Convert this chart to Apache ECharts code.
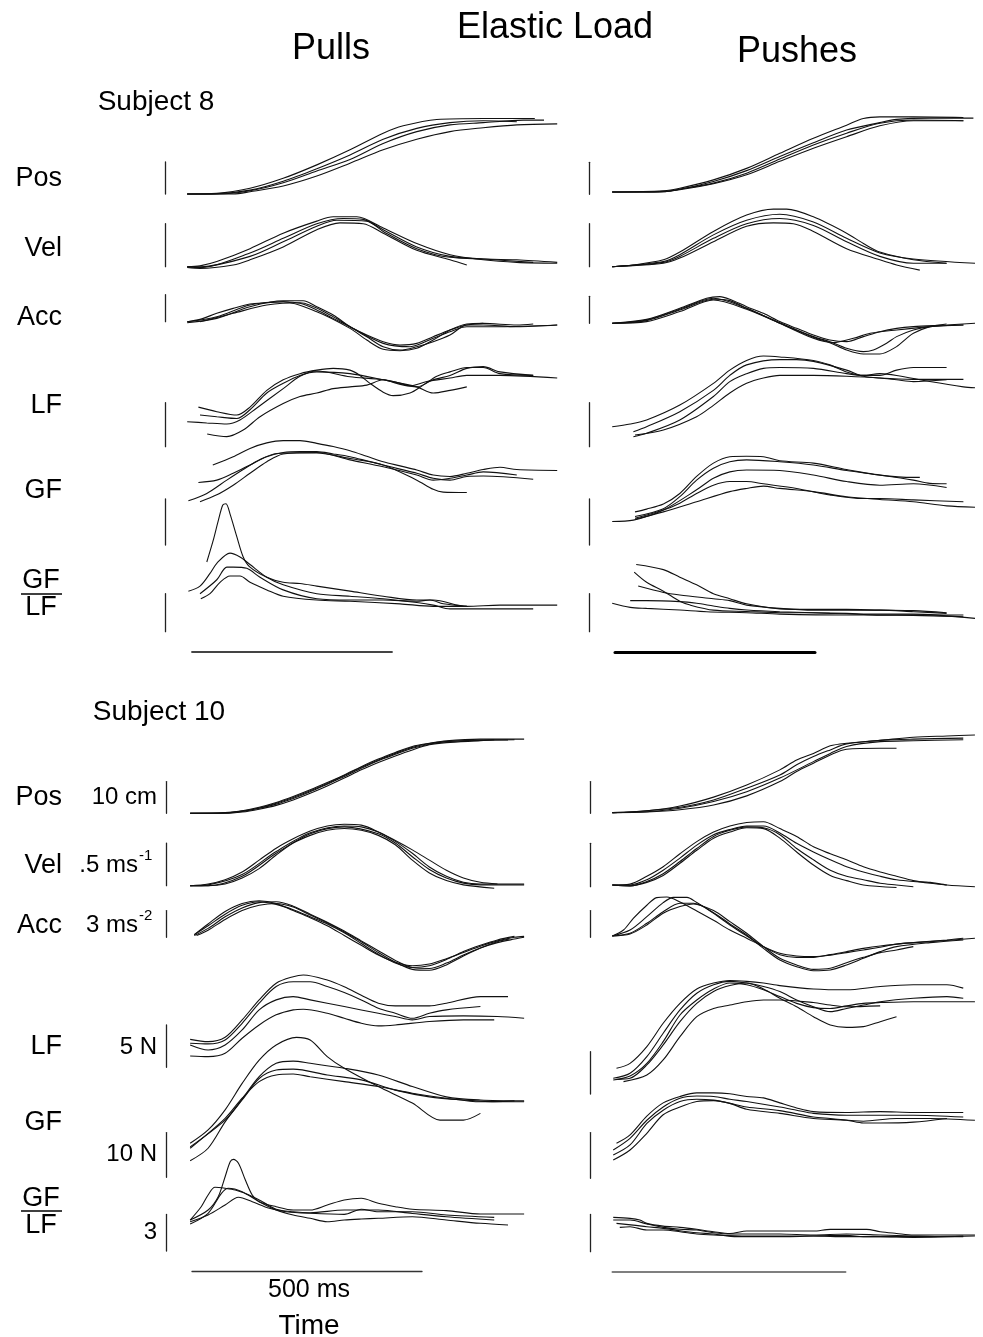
<!DOCTYPE html>
<html><head><meta charset="utf-8">
<script src="https://cdn.jsdelivr.net/npm/echarts@6/dist/echarts.min.js"></script>
<style>html,body{margin:0;padding:0;background:#fff}#c{width:983px;height:1337px}</style>
</head><body><div id="c"></div>
<script>
// ===== DATA: each trace is a list of [time (ms), value] =====
// Units: Pos cm, Vel m/s, Acc m/s^2, LF N, GF N, GF/LF ratio
const rowNames = ['Pos','Vel','Acc','LF','GF','GF/LF'];
const scaleBarValues = [10, 0.5, 3, 5, 10, 3];
const scaleBarLabels = ['10 cm', '.5 ms', '3 ms', '5 N', '10 N', '3'];
const scaleBarSup = ['', '-1', '-2', '', '', ''];
const timeBarMs = 500;

// ---------- Subject 8, Pulls ----------
const s8PullPos = [
 [[-12,0],[62,0.2],[145,1.8],[228,4.9],[312,9.1],[395,13.8],[478,19.0],[528,21.3],[612,23.3],[728,23.6],[857,23.6]],
 [[-12,0],[62,0.1],[145,1.2],[228,4.0],[312,7.9],[395,12.2],[478,17.1],[562,20.5],[645,22.3],[728,22.9],[812,22.6]],
 [[-12,0],[62,0],[145,1.0],[228,3.5],[312,7.2],[395,10.8],[478,15.8],[562,19.5],[645,21.6],[728,22.3],[828,23.1],[880,23.1]],
 [[-12,0],[103,0],[145,0.7],[228,2.5],[312,5.6],[395,9.6],[478,13.8],[562,17.1],[645,19.5],[728,20.7],[812,21.6],[913,21.9]]
];
const s8PullVel = [
 [[-12,0],[20,0.01],[62,0.06],[145,0.21],[228,0.39],[312,0.53],[353,0.58],[412,0.58],[478,0.45],[562,0.27],[645,0.14],[728,0.08],[812,0.05],[913,0.04]],
 [[-12,-0.01],[20,-0.02],[103,0.02],[145,0.08],[228,0.23],[312,0.43],[370,0.51],[428,0.50],[478,0.39],[562,0.19],[645,0.08],[687,0.02]],
 [[-12,0],[20,-0.01],[145,0.16],[228,0.33],[312,0.50],[378,0.56],[428,0.55],[478,0.43],[562,0.23],[645,0.12],[728,0.09],[853,0.05]],
 [[-12,0],[20,0],[145,0.12],[228,0.29],[312,0.47],[362,0.54],[437,0.53],[478,0.41],[562,0.21],[645,0.11],[812,0.08],[913,0.05]]
];
const s8PullAcc = [
 [[-12,0],[20,0.26],[62,0.93],[103,1.48],[145,1.96],[187,2.11],[228,2.22],[270,2.04],[312,1.30],[353,0.37],[395,-0.56],[437,-1.48],[478,-2.22],[520,-2.59],[562,-2.41],[603,-1.67],[645,-0.93],[687,-0.37],[728,-0.19],[812,-0.37],[853,-0.26]],
 [[-12,-0.11],[62,0.37],[145,1.67],[228,2.33],[278,2.33],[312,1.67],[353,0.74],[395,-0.56],[437,-1.67],[478,-2.78],[520,-3.15],[562,-2.78],[603,-2.22],[645,-1.48],[687,-0.37],[728,-0.37],[812,-0.56],[913,-0.37]],
 [[-12,0],[62,0.56],[145,1.85],[228,2.22],[312,1.11],[395,-0.74],[437,-2.04],[478,-3.07],[520,-3.22],[562,-2.96],[603,-2.04],[645,-0.93],[687,-0.26],[728,-0.19]],
 [[20,0],[103,0.93],[187,1.85],[270,2.11],[353,0.56],[395,-0.56],[478,-2.41],[545,-2.78],[603,-1.85],[645,-1.11],[687,-0.56],[770,-0.56],[913,-0.37]]
];
const s8PullLF = [
 [[16,4.5],[62,3.98],[112,3.6],[145,4.5],[187,6.4],[228,7.6],[270,8.3],[312,8.7],[353,8.9],[395,8.7],[420,8.1],[445,7.2],[478,6.2],[503,5.8],[545,6.1],[578,7.0],[612,8.0],[645,8.5],[687,9.0],[728,9.0],[770,8.3],[853,8.1]],
 [[20,3.6],[62,3.4],[112,3.2],[145,4.2],[187,6.1],[228,7.2],[270,8.1],[312,8.5],[395,8.3],[478,7.6],[562,6.8],[603,6.1],[645,6.4],[687,6.8]],
 [[-12,2.84],[37,2.7],[87,2.58],[120,3.03],[162,4.4],[228,6.6],[270,8.0],[312,8.6],[395,7.95],[478,7.6],[545,6.9],[587,7.4],[645,7.8],[687,8.1],[770,8.1],[913,7.8]],
 [[38,1.44],[87,1.14],[128,1.89],[170,3.4],[228,4.9],[270,5.7],[312,6.1],[353,6.6],[395,6.8],[437,7.0],[478,7.6],[562,6.8],[603,7.6],[645,8.1],[687,8.9],[728,9.1],[770,8.5],[853,8.1]]
];
const s8PullGF = [
 [[52,17.4],[103,19.2],[145,21.0],[187,22.2],[228,22.7],[270,22.7],[312,22.1],[353,21.4],[395,20.5],[437,19.3],[478,18.1],[520,17.2],[562,16.3],[603,15.2],[645,14.9],[687,15.6],[728,16.4],[770,16.9],[812,16.4],[913,16.2]],
 [[16,13.6],[62,14.1],[103,15.6],[145,17.4],[187,19.2],[228,20.1],[270,20.3],[312,20.3],[353,19.8],[395,19.2],[437,18.3],[478,17.4],[520,16.5],[562,15.6],[603,14.5],[645,14.1],[687,14.9],[728,15.0],[853,14.3]],
 [[-9,9.6],[37,11.2],[87,14.1],[128,16.4],[170,18.6],[212,19.9],[270,20.0],[312,20.0],[395,18.8],[478,17.4],[562,14.1],[603,12.1],[628,11.5],[687,11.4]],
 [[20,9.4],[62,10.9],[103,13.0],[145,15.6],[187,18.1],[228,19.8],[312,20.1],[395,18.5],[478,17.0],[562,15.2],[603,14.1],[645,14.5],[687,15.2],[728,15.9],[812,15.2]]
];
const s8PullRatio = [
 [[37,5.5],[53,7.2],[66,8.8],[77,10.0],[85,10.1],[95,9.3],[112,7.5],[128,5.9],[145,5.1],[187,4.3],[228,3.9],[270,3.8],[312,3.6],[395,3.2],[478,2.8],[562,2.5],[603,2.5],[687,2.0],[770,2.1],[913,2.1]],
 [[-9,3.2],[20,3.6],[45,4.6],[62,5.4],[95,6.2],[120,5.9],[145,5.3],[187,4.3],[228,3.7],[312,3.0],[395,2.8],[478,2.6],[562,2.3],[603,2.1],[645,1.8],[728,1.8],[853,1.8]],
 [[20,3.0],[62,4.1],[87,5.1],[103,5.1],[137,5.0],[170,4.3],[228,3.3],[312,2.6],[395,2.5],[478,2.5],[562,2.4],[595,2.5],[628,2.2],[687,2.0]],
 [[22,2.6],[45,3.0],[70,3.9],[95,4.4],[120,4.4],[145,3.9],[187,3.3],[228,2.8],[312,2.5],[395,2.4],[520,2.2],[603,2.0],[687,2.0]]
];

// ---------- Subject 8, Pushes ----------
const s8PushPos = [
 [[-7,0.7],[121,1.1],[162,1.9],[246,4.5],[329,8.1],[412,12.8],[496,17.5],[579,21.6],[621,23.7],[662,24.2],[746,24.2],[871,24.0]],
 [[-7,0.7],[121,0.9],[162,1.6],[246,4.0],[329,7.4],[412,11.8],[496,16.1],[579,20.1],[662,22.4],[704,23.4],[787,23.8],[896,23.8]],
 [[-7,0.7],[121,0.8],[162,1.6],[246,3.5],[329,6.6],[412,11.0],[496,15.4],[579,19.1],[662,22.2],[746,23.2],[871,23.0]],
 [[-7,0.7],[121,0.8],[162,1.4],[246,3.3],[329,6.1],[412,10.3],[496,14.4],[579,18.0],[662,21.4],[746,23.0],[871,23.0]]
];
const s8PushVel = [
 [[-7,0],[46,0.02],[121,0.08],[162,0.17],[246,0.41],[329,0.60],[396,0.67],[429,0.67],[496,0.58],[579,0.39],[621,0.27],[662,0.17],[746,0.08],[829,0.04]],
 [[-7,0],[121,0.06],[162,0.14],[246,0.37],[329,0.54],[412,0.61],[496,0.52],[579,0.33],[662,0.16],[746,0.09],[900,0.04]],
 [[-7,0],[121,0.05],[162,0.12],[246,0.33],[329,0.50],[412,0.56],[496,0.48],[579,0.29],[662,0.12],[746,0.04],[829,0.04]],
 [[-7,0],[121,0.04],[162,0.10],[246,0.29],[329,0.47],[396,0.51],[446,0.50],[496,0.41],[579,0.21],[662,0.08],[704,0.02],[762,-0.04]]
];
const s8PushAcc = [
 [[-7,0],[79,0.44],[162,1.67],[229,2.78],[262,2.96],[287,2.67],[329,1.85],[371,1.11],[412,0.19],[454,-0.56],[496,-1.30],[537,-1.85],[579,-2.04],[621,-1.48],[662,-0.93],[704,-0.56],[746,-0.37],[829,-0.19],[900,0]],
 [[-7,0],[79,0.30],[162,1.48],[246,2.67],[287,2.52],[329,1.67],[412,0.07],[496,-1.48],[537,-2.04],[579,-2.78],[621,-3.15],[646,-2.96],[679,-2.22],[704,-1.48],[746,-0.74],[787,-0.37],[871,-0.19]],
 [[-7,0],[79,0.19],[162,1.30],[246,2.59],[329,1.56],[412,0],[496,-1.56],[537,-2.15],[579,-2.96],[621,-3.41],[662,-3.41],[704,-2.59],[729,-1.67],[746,-1.11],[787,-0.37],[829,-0.07]],
 [[-7,0],[79,0.37],[162,1.56],[246,2.78],[329,1.67],[412,0],[496,-1.67],[546,-2.15],[596,-1.67],[638,-1.11],[704,-0.74],[787,-0.37],[871,-0.19]]
];
const s8PushLF = [
 [[-7,2.27],[38,2.58],[79,3.03],[162,4.73],[246,7.2],[287,8.7],[329,9.8],[371,10.3],[412,10.2],[496,9.8],[537,9.3],[579,8.5],[621,8.1],[662,8.1],[704,8.7],[746,9.0],[829,9.0]],
 [[46,1.7],[79,2.27],[162,3.98],[246,6.4],[287,8.1],[329,9.3],[412,9.9],[454,9.9],[496,9.7],[579,8.7],[621,8.0],[662,7.8],[746,7.65],[871,7.65]],
 [[46,1.14],[79,1.52],[162,3.03],[246,5.7],[287,7.4],[329,8.3],[371,8.9],[412,9.0],[496,8.9],[579,8.3],[621,8.1],[662,8.3],[704,8.1],[787,7.4],[871,6.8],[900,6.7]],
 [[50,1.33],[121,1.89],[204,3.4],[246,4.7],[287,6.1],[329,7.2],[371,7.8],[412,8.1],[496,8.1],[579,8.0],[662,7.8],[704,7.6],[746,7.4],[829,7.6]]
];
const s8PushGF = [
 [[50,7.2],[79,7.8],[121,8.9],[162,11.2],[204,14.9],[246,17.8],[287,19.2],[329,19.3],[371,19.2],[412,18.3],[496,17.8],[579,16.4],[662,15.2],[746,14.7],[762,14.7]],
 [[50,6.2],[121,7.9],[162,10.5],[204,14.1],[246,16.7],[287,18.1],[329,18.5],[412,18.1],[496,17.4],[579,16.2],[662,15.2],[746,14.1],[787,13.4],[829,13.3]],
 [[-7,5.1],[46,5.4],[121,7.6],[204,12.0],[246,14.5],[287,15.9],[329,16.3],[412,16.2],[496,15.2],[579,13.8],[662,13.0],[746,13.3],[829,12.5]],
 [[50,5.8],[121,7.6],[162,9.1],[204,11.2],[246,13.0],[287,13.8],[329,13.8],[371,13.3],[454,12.3],[537,10.9],[621,10.1],[662,10.1],[746,9.8],[871,9.4]],
 [[50,5.6],[121,7.2],[204,9.4],[287,11.6],[329,12.3],[371,12.8],[412,12.3],[496,11.6],[579,10.5],[662,9.9],[746,9.4],[829,8.5],[900,8.2]]
];
const s8PushRatio = [
 [[53,5.3],[121,4.9],[162,4.3],[204,3.7],[246,3.0],[287,2.6],[329,2.2],[412,1.8],[496,1.76],[579,1.76],[662,1.7],[746,1.66],[829,1.5]],
 [[48,4.7],[79,3.9],[121,3.2],[162,2.4],[188,2.1],[246,1.7],[329,1.6],[412,1.5],[496,1.5],[579,1.45],[662,1.3],[746,1.29],[871,1.18]],
 [[58,3.6],[121,3.1],[162,2.9],[246,2.6],[287,2.45],[329,2.1],[412,1.84],[496,1.7],[579,1.7],[662,1.7],[746,1.58],[829,1.45]],
 [[38,2.45],[79,2.45],[162,2.37],[204,2.24],[246,2.03],[287,1.84],[329,1.71],[412,1.58],[537,1.45],[621,1.39],[746,1.39],[900,1.05]],
 [[-7,2.24],[38,1.92],[79,1.84],[162,1.71],[229,1.58],[329,1.5],[412,1.39],[579,1.32],[746,1.32],[871,1.32]]
];

// ---------- Subject 10, Pulls ----------
const s10PullPos = [
 [[-4,0],[72,0.2],[109,0.8],[146,1.9],[183,3.4],[220,5.3],[257,7.4],[294,9.7],[331,12.1],[368,14.7],[405,17.1],[442,19.2],[479,21.1],[516,22.1],[553,22.9],[627,23.4],[722,23.4]],
 [[-4,0],[72,0],[109,0.4],[146,1.3],[183,2.5],[220,4.2],[257,6.3],[294,8.6],[331,11.1],[368,13.7],[405,16.0],[442,18.1],[479,20.0],[516,21.6],[553,22.3],[627,22.9],[657,23.2]],
 [[-4,0],[72,0.1],[109,0.6],[146,1.6],[183,2.9],[220,4.7],[257,6.8],[294,9.2],[331,11.6],[368,14.2],[405,16.6],[442,18.6],[479,20.5],[516,21.8],[553,22.6],[627,23.0],[701,23.2]],
 [[-4,0],[72,0.1],[109,0.7],[146,1.7],[183,3.2],[220,5.0],[257,7.1],[294,9.4],[331,11.9],[368,14.5],[405,16.8],[442,18.9],[479,20.8],[516,22.0],[553,22.6],[627,23.1],[687,23.1]]
];
const s10PullVel = [
 [[-4,0],[35,0.02],[72,0.07],[109,0.16],[146,0.30],[183,0.44],[220,0.55],[257,0.64],[294,0.70],[331,0.72],[368,0.71],[405,0.63],[442,0.52],[479,0.38],[516,0.22],[553,0.11],[590,0.04],[627,0.02],[722,0.02]],
 [[-4,0],[35,0],[72,0.02],[109,0.09],[146,0.20],[183,0.36],[220,0.50],[257,0.59],[294,0.65],[331,0.67],[368,0.65],[405,0.59],[442,0.48],[479,0.30],[516,0.15],[553,0.06],[590,0.01],[657,-0.03]],
 [[-4,0],[35,0.01],[109,0.13],[183,0.40],[257,0.62],[331,0.70],[368,0.69],[405,0.63],[442,0.53],[479,0.42],[516,0.30],[553,0.18],[590,0.09],[627,0.04],[664,0.02]],
 [[-4,0],[35,0],[109,0.11],[183,0.38],[257,0.61],[331,0.69],[405,0.61],[442,0.50],[479,0.34],[516,0.19],[553,0.09],[590,0.03],[627,0.01],[722,0.01]]
];
const s10PullAcc = [
 [[5,0.3],[35,1.5],[72,2.9],[109,3.8],[146,4.1],[183,3.8],[220,3.0],[257,2.2],[294,1.3],[331,0.2],[368,-0.9],[405,-2.0],[442,-2.8],[479,-3.2],[516,-3.0],[553,-2.4],[590,-1.7],[627,-1.0],[664,-0.4],[701,0],[722,0.1]],
 [[5,0.2],[35,1.0],[72,2.3],[109,3.3],[146,3.9],[183,4.0],[220,3.5],[257,2.6],[294,1.7],[331,0.7],[368,-0.4],[405,-1.5],[442,-2.6],[479,-3.4],[516,-3.5],[553,-2.9],[590,-2.0],[627,-1.2],[664,-0.6],[701,-0.2],[722,0]],
 [[5,0.3],[35,1.3],[72,2.6],[109,3.6],[146,4.0],[183,3.7],[220,3.1],[257,2.3],[294,1.5],[331,0.5],[368,-0.7],[405,-1.9],[442,-2.9],[479,-3.4],[516,-3.2],[553,-2.5],[590,-1.6],[627,-0.9],[664,-0.3],[701,0.1]],
 [[10,0.2],[35,0.8],[72,2.0],[109,3.0],[146,3.6],[183,3.8],[220,3.4],[257,2.5],[294,1.6],[331,0.6],[368,-0.5],[405,-1.7],[442,-2.8],[479,-3.6],[516,-3.7],[553,-3.1],[590,-2.1],[627,-1.2],[664,-0.5],[690,-0.2]]
];
const s10PullLF = [
 [[-4,3.3],[35,3.03],[72,3.55],[109,5.59],[146,7.96],[183,9.93],[220,10.7],[242,10.9],[294,10.3],[331,9.5],[368,8.5],[405,7.57],[442,7.25],[516,7.25],[553,7.57],[627,8.35],[687,8.35]],
 [[-4,2.84],[35,2.76],[72,3.23],[109,5.2],[146,7.57],[183,9.54],[220,10.1],[257,10.1],[294,9.54],[331,8.83],[368,7.96],[405,6.97],[442,6.38],[479,5.79],[516,6.38],[553,6.78],[627,7.17]],
 [[-4,2.64],[35,2.05],[72,2.64],[109,4.41],[146,6.78],[183,7.96],[220,8.35],[257,7.96],[331,7.17],[405,6.38],[442,5.99],[479,5.6],[516,5.99],[590,6.07],[664,5.99],[722,5.79]],
 [[-4,1.34],[35,1.26],[72,1.65],[109,3.43],[146,5.0],[183,6.19],[220,6.78],[242,6.86],[294,6.38],[331,5.79],[368,5.2],[405,4.89],[442,5.0],[516,5.4],[590,5.6],[657,5.6]]
];
const s10PullGF = [
 [[-4,7.6],[35,10.6],[72,15.1],[109,21.0],[146,26.2],[183,29.6],[227,31.3],[257,30.7],[294,27.0],[331,24.4],[405,20.3],[479,16.6],[539,12.8],[590,12.8],[627,14.3]],
 [[-4,3.7],[35,6.5],[72,12.4],[109,17.5],[146,22.5],[183,25.5],[220,26.0],[257,25.5],[331,24.4],[405,22.9],[479,20.3],[553,18.0],[627,17.3],[722,17.1]],
 [[-4,6.8],[72,12.8],[109,17.3],[146,22.1],[183,24.0],[220,24.2],[294,22.9],[368,21.8],[442,19.5],[516,18.0],[590,17.3],[664,16.9],[722,16.9]],
 [[-4,6.5],[72,13.2],[109,17.7],[146,21.4],[183,22.9],[220,23.1],[257,22.5],[331,21.4],[405,20.3],[479,18.8],[553,17.7],[627,16.9],[701,17.1]]
];
const s10PullRatio = [
 [[-4,2.54],[35,3.36],[57,4.45],[72,6.09],[83,7.32],[90,7.51],[101,7.19],[116,5.82],[131,4.59],[146,4.04],[183,3.63],[220,3.36],[257,3.36],[294,3.77],[331,4.18],[368,4.32],[405,3.91],[442,3.63],[479,3.42],[553,3.31],[627,3.03],[722,3.03]],
 [[-4,2.54],[20,3.63],[35,4.59],[50,5.22],[72,5.14],[94,5.0],[124,4.59],[153,4.04],[183,3.42],[220,3.22],[257,3.14],[331,3.36],[405,3.36],[479,3.08],[553,2.81],[657,2.54]],
 [[-4,2.21],[35,3.09],[64,4.73],[79,5.14],[109,4.86],[146,4.04],[183,3.36],[220,2.95],[257,2.68],[294,2.4],[331,2.54],[368,2.62],[405,2.68],[479,2.81],[553,2.54],[627,2.27],[687,2.13]],
 [[-4,2.40],[35,2.95],[72,3.77],[101,4.4],[131,4.04],[168,3.5],[205,3.22],[257,3.09],[331,3.0],[368,3.42],[405,3.22],[479,3.22],[553,2.95],[657,2.76]]
];

// ---------- Subject 10, Pushes ----------
const s10PushPos = [
 [[0,0.2],[74,0.8],[145,2.3],[217,5.1],[288,8.9],[359,13.7],[395,16.8],[431,18.9],[467,21.3],[502,22.1],[574,23.0],[645,24.0],[717,24.4],[777,24.7]],
 [[0,0.2],[74,0.8],[145,1.9],[217,4.2],[288,7.9],[359,12.1],[395,15.3],[431,17.9],[467,20.0],[502,21.9],[574,23.0],[645,23.4],[752,23.7]],
 [[0,0.2],[74,0.5],[145,1.6],[217,3.7],[288,6.8],[359,11.1],[431,16.3],[467,18.9],[502,21.1],[574,22.6],[645,22.9],[752,23.2]],
 [[0,0.2],[74,0.4],[145,1.1],[217,2.6],[288,5.5],[359,10.0],[395,13.2],[431,15.8],[467,18.4],[502,20.2],[574,20.5],[609,20.5]]
];
const s10PushVel = [
 [[0,0.02],[38,0.03],[74,0.12],[109,0.23],[145,0.38],[181,0.52],[217,0.63],[252,0.70],[288,0.74],[324,0.75],[359,0.67],[395,0.58],[431,0.46],[467,0.38],[502,0.31],[538,0.23],[574,0.17],[609,0.12],[645,0.07],[681,0.04],[717,0.02]],
 [[0,0.02],[38,0.02],[74,0.08],[109,0.19],[145,0.33],[181,0.48],[217,0.60],[252,0.66],[288,0.70],[324,0.70],[359,0.62],[395,0.50],[431,0.40],[467,0.31],[502,0.23],[538,0.17],[574,0.12],[609,0.08],[645,0.06],[681,0.05],[717,0.02],[777,0]],
 [[0,0.02],[38,0.01],[74,0.06],[109,0.15],[145,0.29],[181,0.44],[217,0.58],[252,0.65],[288,0.69],[324,0.68],[359,0.60],[395,0.44],[431,0.31],[467,0.19],[502,0.12],[538,0.08],[574,0.04],[609,0.02],[645,0]],
 [[0,0.02],[38,0.01],[74,0.05],[109,0.13],[145,0.27],[181,0.42],[217,0.56],[252,0.63],[288,0.68],[324,0.67],[359,0.56],[395,0.40],[431,0.25],[467,0.13],[502,0.07],[538,0.02],[609,-0.01]]
];
const s10PushAcc = [
 [[0,0.15],[24,0.82],[45,2.13],[74,3.6],[95,4.46],[117,4.53],[145,3.97],[181,2.96],[217,1.91],[252,0.82],[288,-0.11],[324,-1.05],[359,-1.8],[395,-2.1],[431,-2.17],[467,-2.02],[502,-1.72],[538,-1.42],[574,-1.12],[609,-0.75],[681,-0.49],[777,-0.11]],
 [[0,0.15],[38,0.82],[74,2.32],[109,3.9],[131,4.49],[160,4.49],[181,3.9],[217,2.7],[252,1.39],[288,0.15],[324,-1.05],[359,-1.95],[395,-2.25],[431,-2.25],[467,-1.95],[502,-1.61],[538,-1.24],[574,-0.97],[645,-0.6],[717,-0.3],[752,-0.11]],
 [[0,0.15],[38,0.45],[74,1.57],[109,2.88],[145,3.82],[174,3.82],[217,2.77],[252,1.5],[288,0.26],[324,-1.24],[359,-2.55],[395,-3.3],[431,-3.75],[467,-3.67],[502,-3.11],[538,-2.36],[574,-1.61],[609,-1.05],[681,-0.6],[752,-0.3]],
 [[0,0.15],[38,0.37],[74,1.39],[109,2.7],[145,3.45],[174,3.75],[217,3.0],[252,1.76],[288,0.45],[324,-1.05],[359,-2.36],[395,-3.11],[431,-3.6],[467,-3.48],[502,-2.85],[538,-2.25],[574,-1.72],[609,-1.42],[645,-1.05]]
];
const s10PushLF = [
 [[9,3.03],[38,3.62],[74,5.6],[109,8.35],[145,10.7],[181,12.4],[217,13.1],[252,13.4],[288,13.3],[324,13.1],[359,12.8],[431,12.4],[502,12.3],[574,12.7],[645,12.9],[717,12.9],[752,12.5]],
 [[2,1.85],[38,2.44],[74,4.41],[109,7.17],[145,9.92],[181,11.9],[217,12.9],[252,13.3],[288,13.1],[324,12.7],[359,12.1],[395,11.1],[431,10.3],[467,9.72],[502,10.1],[538,10.5],[574,10.9],[645,11.3],[717,11.5],[752,11.3]],
 [[2,1.65],[38,2.13],[74,3.62],[109,6.18],[145,9.33],[181,11.1],[217,12.4],[252,13.1],[288,12.9],[324,12.3],[359,11.5],[395,10.7],[431,10.2],[467,10.1],[502,10.4],[538,10.7],[574,10.8],[645,10.9],[777,10.9]],
 [[9,1.73],[38,1.85],[74,3.43],[109,5.79],[145,8.54],[181,10.7],[217,12.1],[252,12.8],[288,13.1],[324,12.4],[359,11.3],[395,10.3],[431,9.13],[467,8.15],[502,7.87],[538,7.95],[574,8.54],[609,9.13]],
 [[24,1.46],[74,2.24],[109,4.02],[145,6.77],[181,9.13],[217,10.1],[252,10.5],[288,10.9],[324,11.1],[359,11.1],[431,10.8],[467,10.5],[502,10.3],[574,10.4]]
];
const s10PushGF = [
 [[9,7.66],[38,9.5],[74,13.6],[109,16.5],[145,17.9],[181,18.7],[217,18.7],[252,18.5],[288,17.9],[324,17.6],[359,16.5],[395,15.4],[431,14.6],[502,14.4],[574,14.6],[645,14.4],[752,14.4]],
 [[2,6.2],[38,8.75],[74,12.7],[109,15.6],[145,17.5],[181,18.0],[217,17.9],[252,17.3],[288,16.8],[359,15.6],[395,14.9],[431,14.2],[502,13.8],[574,13.8],[645,13.8],[752,13.4]],
 [[2,5.1],[38,7.3],[74,12.0],[109,14.9],[145,16.8],[181,17.3],[217,17.1],[252,16.4],[288,15.6],[359,14.8],[431,13.4],[467,13.1],[538,12.5],[609,13.1],[681,13.1],[777,12.7]],
 [[2,4.0],[38,6.2],[74,9.85],[109,13.9],[145,15.6],[181,16.8],[217,17.0],[252,16.4],[288,15.1],[359,14.2],[431,13.1],[502,12.7],[538,12.1],[574,12.1],[645,12.3],[717,13.1]]
];
const s10PushRatio = [
 [[2,2.76],[38,2.68],[59,2.55],[74,2.28],[109,2.06],[145,1.96],[181,1.8],[217,1.61],[252,1.47],[288,1.66],[359,1.66],[431,1.66],[467,1.8],[502,1.8],[545,1.8],[574,1.61],[609,1.47],[645,1.34],[777,1.34]],
 [[2,2.55],[38,2.55],[74,2.23],[109,1.96],[145,1.8],[181,1.74],[217,1.53],[252,1.42],[288,1.42],[359,1.42],[431,1.34],[502,1.42],[574,1.34],[645,1.26],[717,1.21],[752,1.21]],
 [[9,2.28],[45,2.14],[74,2.01],[109,1.88],[145,1.69],[181,1.53],[217,1.42],[267,1.21],[324,1.21],[381,1.21],[431,1.26],[502,1.31],[538,1.21],[574,1.21],[645,1.21],[752,1.26]],
 [[16,1.96],[38,2.01],[74,1.74],[109,1.74],[145,1.61],[181,1.42],[217,1.34],[288,1.26],[359,1.26],[431,1.26],[502,1.21],[574,1.21],[645,1.15],[777,1.26]]
];

// ===== LAYOUT (pixel placement of each panel; not data) =====
const panels = [
 {rows:[s8PullPos,s8PullVel,s8PullAcc,s8PullLF,s8PullGF,s8PullRatio], x0:192, k:0.4, barX:165,
  refY:[194,266.7,321.7,446.7,545,631.7], ppu:[3.2,86,9,8.8,4.6,12.67], timeY:652, timeW:1.8, timeC:'#444'},
 {rows:[s8PushPos,s8PushVel,s8PushAcc,s8PushLF,s8PushGF,s8PushRatio], x0:615, k:0.4, barX:589,
  refY:[194.3,266.7,323.3,446.7,545,631.7], ppu:[3.2,86,9,8.8,4.6,12.67], timeY:652, timeW:3, timeC:'#000'},
 {rows:[s10PullPos,s10PullVel,s10PullAcc,s10PullLF,s10PullGF,s10PullRatio], x0:192, k:0.46, barX:166,
  refY:[813.3,885.7,937.3,1067.3,1177.3,1251], ppu:[3.17,85.3,8.9,8.47,4.47,12.2], timeY:1271, timeW:1.3, timeC:'#333'},
 {rows:[s10PushPos,s10PushVel,s10PushAcc,s10PushLF,s10PushGF,s10PushRatio], x0:612.3, k:0.4667, barX:590,
  refY:[813.3,886.7,937.3,1094,1178.3,1251.7], ppu:[3.17,86.7,8.9,8.47,4.57,12.43], timeY:1272, timeW:1.6, timeC:'#555'}
];

const grid = [], xAxis = [], yAxis = [], series = [];
const GW = 430;
panels.forEach(p => {
  p.rows.forEach((traces, r) => {
    const idx = grid.length;
    const h = scaleBarValues[r] * p.ppu[r];
    grid.push({left: p.barX, top: p.refY[r] - h, width: GW, height: h, containLabel:false, outerBoundsMode:'none'});
    const xmin = (p.barX - p.x0) / p.k;
    xAxis.push({gridIndex: idx, type:'value', min: xmin, max: xmin + GW / p.k, show:false});
    yAxis.push({gridIndex: idx, type:'value', min: 0, max: scaleBarValues[r], position:'left',
      axisLine:{show:true, onZero:false, lineStyle:{color:'#222', width:1.3}},
      axisTick:{show:false}, axisLabel:{show:false}, splitLine:{show:false}});
    traces.forEach(tr => {
      series.push({type:'line', xAxisIndex: idx, yAxisIndex: idx, data: tr, showSymbol:false, symbol:'none',
        smooth:0.3, clip:false, silent:true, lineStyle:{color:'#111', width:1.1}});
    });
  });
  // time scale bar (500 ms)
  const idx = grid.length;
  grid.push({left: p.x0, top: p.timeY, width: timeBarMs * p.k, height: 1, containLabel:false, outerBoundsMode:'none'});
  xAxis.push({gridIndex: idx, type:'value', min:0, max:timeBarMs, position:'top',
    axisLine:{show:true, onZero:false, lineStyle:{color:p.timeC, width:p.timeW}},
    axisTick:{show:false}, axisLabel:{show:false}, splitLine:{show:false}});
  yAxis.push({gridIndex: idx, type:'value', show:false, min:0, max:1});
});

const F = 'Liberation Sans, Arial, Helvetica, sans-serif';
function txt(text, x, y, size, align) {
  return {type:'text', x, y, silent:true, style:{text, font: size + 'px ' + F, fill:'#000',
    textAlign: align || 'center', textVerticalAlign:'middle'}};
}
const graphics = [
  txt('Elastic Load', 555, 28, 36),
  txt('Pulls', 331, 49, 36),
  txt('Pushes', 797, 52, 36),
  txt('Subject 8', 156, 102, 28),
  txt('Subject 10', 159, 712, 28),
  txt('500 ms', 309, 1290, 25),
  txt('Time', 309, 1326, 28)
];
const labelY = [[179,249,318,406,491],[798,866,926,1047,1123]];
const fracY = [[581,594,608],[1199,1211,1226]];
labelY.forEach((ys, s) => {
  ys.forEach((y, i) => graphics.push(txt(rowNames[i], 62, y, 27, 'right')));
  graphics.push(txt('GF', 41, fracY[s][0], 27));
  graphics.push({type:'line', silent:true, shape:{x1:21, y1:fracY[s][1], x2:62, y2:fracY[s][1]}, style:{stroke:'#000', lineWidth:1.6}});
  graphics.push(txt('LF', 41, fracY[s][2], 27));
});
// Subject 10 pulls unit labels
const unitY = [797, 865, 925, 1047, 1154, 1232];
const unitRight = [157, 138, 138, 157, 157, 157];
scaleBarLabels.forEach((t, i) => {
  graphics.push(txt(t, unitRight[i], unitY[i], 24, 'right'));
  if (scaleBarSup[i]) graphics.push(txt(scaleBarSup[i], unitRight[i] + 1, unitY[i] - 9, 15, 'left'));
});

const chart = echarts.init(document.getElementById('c'), null, {renderer:'canvas'});
chart.setOption({animation:false, backgroundColor:'#fff', grid, xAxis, yAxis, series, graphic: graphics});
</script></body></html>
